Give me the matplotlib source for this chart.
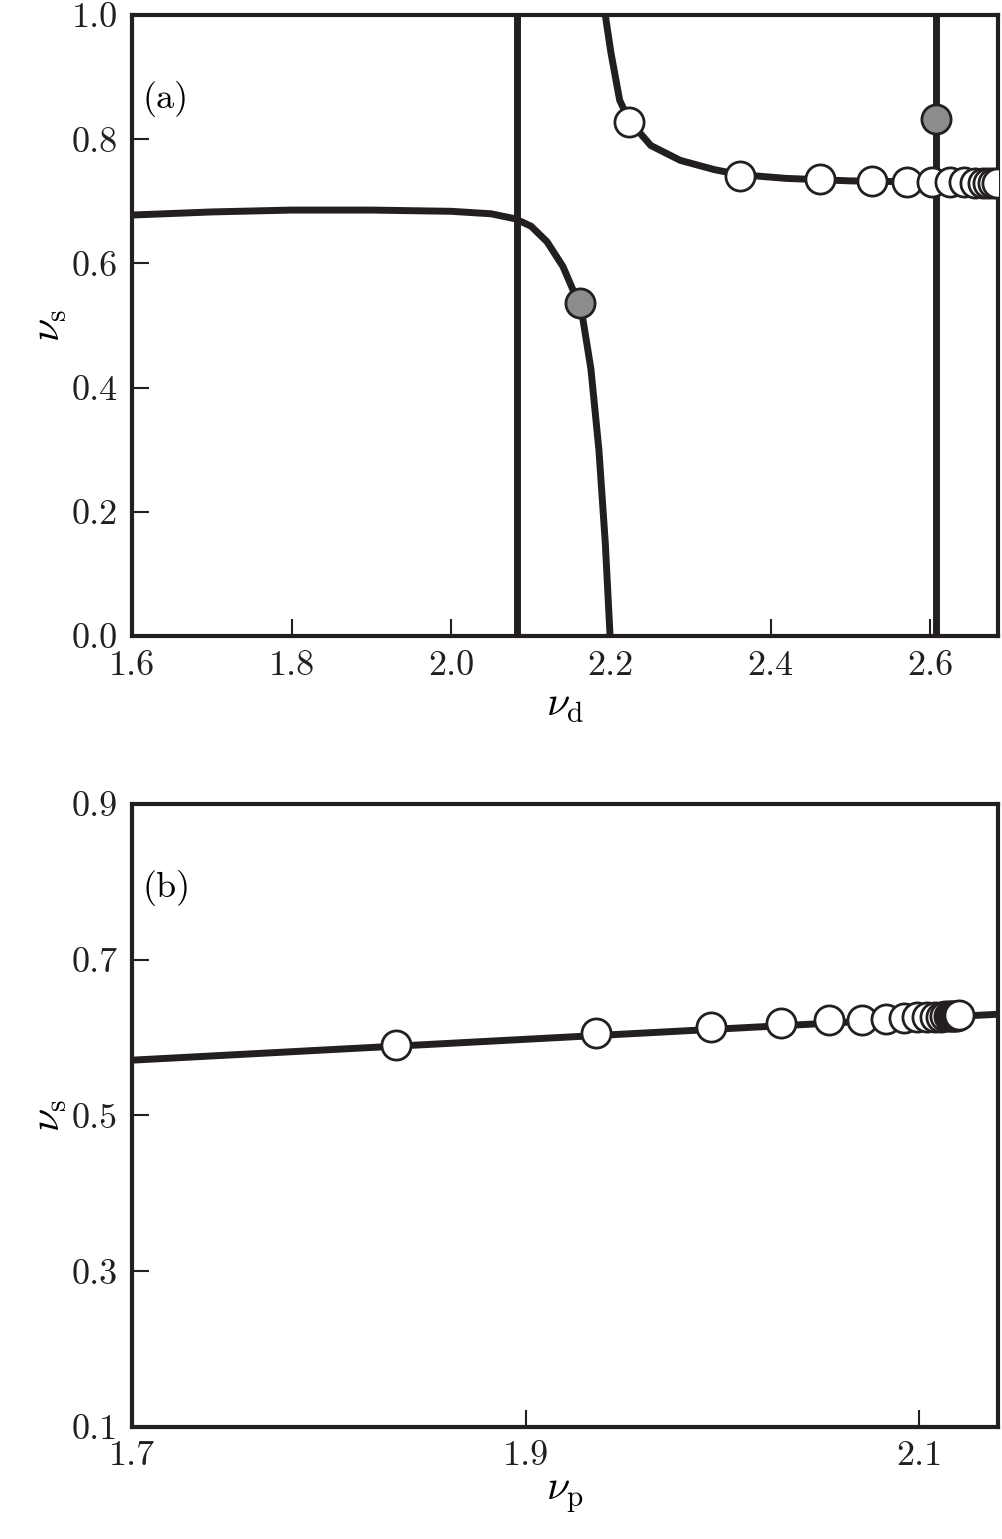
import numpy as np
import matplotlib
matplotlib.use('Agg')
import matplotlib.pyplot as plt

plt.rcParams['font.family'] = 'serif'
plt.rcParams['font.serif'] = ['cmr10']
plt.rcParams['mathtext.fontset'] = 'cm'
plt.rcParams['axes.formatter.use_mathtext'] = True

# panel (a) data
left_x = [1.6, 1.7, 1.8, 1.9, 2.0, 2.05, 2.08, 2.10, 2.12, 2.14, 2.155, 2.165, 2.175, 2.185, 2.193, 2.199]
left_y = [0.678, 0.683, 0.686, 0.686, 0.684, 0.68, 0.672, 0.66, 0.635, 0.595, 0.55, 0.51, 0.43, 0.3, 0.15, 0.0]
right_x = [2.193, 2.2, 2.211, 2.223, 2.25, 2.287, 2.33, 2.362, 2.42, 2.5, 2.6, 2.685]
right_y = [1.0, 0.94, 0.863, 0.83, 0.79, 0.766, 0.751, 0.743, 0.737, 0.733, 0.731, 0.73]
vlines_a = [2.082, 2.607]
open_x_a = [2.223, 2.362, 2.462, 2.527, 2.571, 2.602, 2.625, 2.642, 2.656, 2.666, 2.673, 2.679, 2.684]
open_y_a = [0.828, 0.741, 0.736, 0.733, 0.732, 0.731, 0.731, 0.731, 0.730, 0.730, 0.730, 0.730, 0.730]
gray_x_a = [2.161, 2.607]
gray_y_a = [0.536, 0.832]

# panel (b) data
line_x_b = [1.7, 2.14]
line_y_b = [0.571, 0.630]
open_x_b = [1.834, 1.936, 1.994, 2.030, 2.054, 2.071, 2.083, 2.092, 2.099, 2.104,
            2.108, 2.111, 2.113, 2.115, 2.116, 2.117, 2.118, 2.119, 2.120]
open_y_b = [0.591, 0.606, 0.614, 0.619, 0.622, 0.623, 0.624, 0.625, 0.626, 0.627,
            0.627, 0.627, 0.628, 0.628, 0.628, 0.628, 0.628, 0.628, 0.629]

fig = plt.figure(figsize=(10.02, 15.39), dpi=100)
ax1 = fig.add_axes([0.1317, 0.5867, 0.8643, 0.4035])
ax2 = fig.add_axes([0.1317, 0.0728, 0.8643, 0.4048])

lw = 5
mk = dict(marker='o', markersize=21, markeredgecolor='#231f20', markeredgewidth=2, linestyle='none', zorder=5)

ax1.plot(left_x, left_y, color='#231f20', lw=lw)
ax1.plot(right_x, right_y, color='#231f20', lw=lw)
for v in vlines_a:
    ax1.axvline(v, color='#231f20', lw=lw)
ax1.plot(open_x_a, open_y_a, markerfacecolor='white', **mk)
ax1.plot(gray_x_a, gray_y_a, markerfacecolor='#8c8c8c', **mk)
ax1.set_xlim(1.6, 2.685)
ax1.set_ylim(0, 1.0)
ax1.set_xticks([1.6, 1.8, 2.0, 2.2, 2.4, 2.6])
ax1.set_yticks([0.0, 0.2, 0.4, 0.6, 0.8, 1.0])
ax1.set_xticklabels(['1.6', '1.8', '2.0', '2.2', '2.4', '2.6'])
ax1.set_yticklabels(['0.0', '0.2', '0.4', '0.6', '0.8', '1.0'])
ax1.set_xlabel(r'$\nu_{\rm d}$', fontsize=30)
ax1.set_ylabel(r'$\nu_{\rm s}$', fontsize=30, labelpad=2)
ax1.text(0.012, 0.85, '(a)', transform=ax1.transAxes, fontsize=26)

ax2.plot(line_x_b, line_y_b, color='#231f20', lw=lw)
ax2.plot(open_x_b, open_y_b, markerfacecolor='white', **mk)
ax2.set_xlim(1.7, 2.14)
ax2.set_ylim(0.1, 0.9)
ax2.set_xticks([1.7, 1.9, 2.1])
ax2.set_yticks([0.1, 0.3, 0.5, 0.7, 0.9])
ax2.set_xticklabels(['1.7', '1.9', '2.1'])
ax2.set_yticklabels(['0.1', '0.3', '0.5', '0.7', '0.9'])
ax2.set_xlabel(r'$\nu_{\rm p}$', fontsize=30)
ax2.set_ylabel(r'$\nu_{\rm s}$', fontsize=30, labelpad=2)
ax2.text(0.012, 0.85, '(b)', transform=ax2.transAxes, fontsize=26)

for ax in (ax1, ax2):
    for s in ax.spines.values():
        s.set_linewidth(3)
        s.set_color('#231f20')
    ax.tick_params(direction='in', length=12, width=1.5, labelsize=26, pad=10, colors='#231f20')

fig.savefig('out.png', dpi=100)
